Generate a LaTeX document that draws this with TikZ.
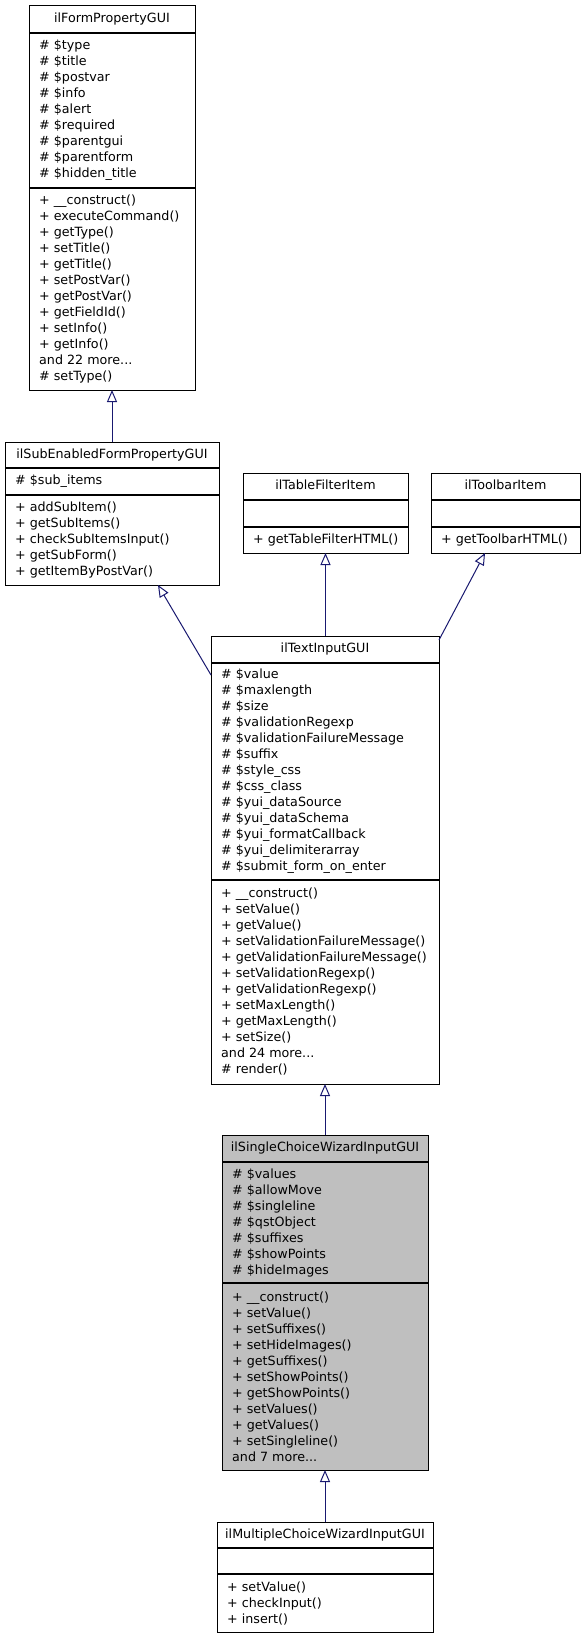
\documentclass[tikz,border=0pt]{standalone}
\usepackage{fontspec}
\setmainfont{DejaVu Sans}
\usetikzlibrary{arrows.meta,calc}
\definecolor{edgeblue}{RGB}{25,25,112}
\definecolor{hilite}{RGB}{191,191,191}
\newcommand\umlfont{\fontsize{12.7}{16}\selectfont}
\tikzset{
  classbox/.style={draw=black, line width=1pt, rectangle, inner sep=0pt, outer sep=0pt},
  sepline/.style={draw=black, line width=1.4pt},
  ttl/.style={font=\umlfont, inner sep=0pt, anchor=center, text height=9.5pt, text depth=3pt},
  mem/.style={font=\umlfont, inner sep=0pt, anchor=west, align=left},
  inh/.style={draw=edgeblue, line width=1pt, -{Triangle[open, length=12pt, width=10pt]}},
}
\begin{document}
\begin{tikzpicture}[x=1pt, y=-1pt]
\fill[white] (0,0) rectangle (584,1640);
\useasboundingbox (0,0) rectangle (584,1640);

% ilFormPropertyGUI: x 29-195, y 6-390
\node[classbox, minimum width=166pt, minimum height=384pt] (FP) at (112,198) {};
\draw[sepline] (29,33) -- (195,33);
\draw[sepline] (29,188) -- (195,188);
\node[ttl] (FPt) at (112,19.5) {ilFormPropertyGUI};
\node[mem] (FPa) at (39,110.5) {\# \$type\\\# \$title\\\# \$postvar\\\# \$info\\\# \$alert\\\# \$required\\\# \$parentgui\\\# \$parentform\\\# \$hidden\_title};
\node[mem] (FPm) at (39,289) {+ \_\_construct()\\+ executeCommand()\\+ getType()\\+ setTitle()\\+ getTitle()\\+ setPostVar()\\+ getPostVar()\\+ getFieldId()\\+ setInfo()\\+ getInfo()\\and 22 more...\\\# setType()};

% ilSubEnabledFormPropertyGUI: x 5-219, y 442-585
\node[classbox, minimum width=214pt, minimum height=143pt] (SE) at (112,513.5) {};
\draw[sepline] (5,468) -- (219,468);
\draw[sepline] (5,495) -- (219,495);
\node[ttl] (SEt) at (112,455) {ilSubEnabledFormPropertyGUI};
\node[mem] (SEa) at (15,481.5) {\# \$sub\_items};
\node[mem] (SEm) at (15,540) {+ addSubItem()\\+ getSubItems()\\+ checkSubItemsInput()\\+ getSubForm()\\+ getItemByPostVar()};

% ilTableFilterItem: x 243-408, y 473-553
\node[classbox, minimum width=165pt, minimum height=80pt] (TF) at (325.5,513) {};
\draw[sepline] (243,500) -- (408,500);
\draw[sepline] (243,527) -- (408,527);
\node[ttl] (TFt) at (325.5,486.5) {ilTableFilterItem};
\node[mem] (TFm) at (253,540) {+ getTableFilterHTML()};

% ilToolbarItem: x 431-580, y 473-553
\node[classbox, minimum width=149pt, minimum height=80pt] (TB) at (505.5,513) {};
\draw[sepline] (431,500) -- (580,500);
\draw[sepline] (431,527) -- (580,527);
\node[ttl] (TBt) at (505.5,486.5) {ilToolbarItem};
\node[mem] (TBm) at (441,540) {+ getToolbarHTML()};

% ilTextInputGUI: x 211-439, y 636-1084
\node[classbox, minimum width=228pt, minimum height=448pt] (TI) at (325,860) {};
\draw[sepline] (211,663) -- (439,663);
\draw[sepline] (211,880) -- (439,880);
\node[ttl] (TIt) at (325,649.5) {ilTextInputGUI};
\node[mem] (TIa) at (221,771.5) {\# \$value\\\# \$maxlength\\\# \$size\\\# \$validationRegexp\\\# \$validationFailureMessage\\\# \$suffix\\\# \$style\_css\\\# \$css\_class\\\# \$yui\_dataSource\\\# \$yui\_dataSchema\\\# \$yui\_formatCallback\\\# \$yui\_delimiterarray\\\# \$submit\_form\_on\_enter};
\node[mem] (TIm) at (221,982) {+ \_\_construct()\\+ setValue()\\+ getValue()\\+ setValidationFailureMessage()\\+ getValidationFailureMessage()\\+ setValidationRegexp()\\+ getValidationRegexp()\\+ setMaxLength()\\+ getMaxLength()\\+ setSize()\\and 24 more...\\\# render()};

% ilSingleChoiceWizardInputGUI: x 222-428, y 1135-1470
\node[classbox, fill=hilite, minimum width=206pt, minimum height=335pt] (SC) at (325,1302.5) {};
\draw[sepline] (222,1162) -- (428,1162);
\draw[sepline] (222,1283) -- (428,1283);
\node[ttl] (SCt) at (325,1148.5) {ilSingleChoiceWizardInputGUI};
\node[mem] (SCa) at (232,1222.5) {\# \$values\\\# \$allowMove\\\# \$singleline\\\# \$qstObject\\\# \$suffixes\\\# \$showPoints\\\# \$hideImages};
\node[mem] (SCm) at (232,1376.5) {+ \_\_construct()\\+ setValue()\\+ setSuffixes()\\+ setHideImages()\\+ getSuffixes()\\+ setShowPoints()\\+ getShowPoints()\\+ setValues()\\+ getValues()\\+ setSingleline()\\and 7 more...};

% ilMultipleChoiceWizardInputGUI: x 217-433, y 1522-1632
\node[classbox, minimum width=216pt, minimum height=110pt] (MC) at (325,1577) {};
\draw[sepline] (217,1548) -- (433,1548);
\draw[sepline] (217,1574) -- (433,1574);
\node[ttl] (MCt) at (325,1535) {ilMultipleChoiceWizardInputGUI};
\node[mem] (MCm) at (227,1603) {+ setValue()\\+ checkInput()\\+ insert()};

% inheritance connectors
\draw[inh] (SE.north -| FP.south) -- (FP.south);
\draw[inh] (TI.north -| TF.south) -- (TF.south);
\draw[inh] (TI.west |- 0,675) -- (SE.south -| 158,0);
\draw[inh] (TI.east |- 0,640) -- (TB.south -| 485,0);
\draw[inh] (SC.north) -- (SC.north |- TI.south);
\draw[inh] (MC.north) -- (MC.north |- SC.south);
\end{tikzpicture}
\end{document}
